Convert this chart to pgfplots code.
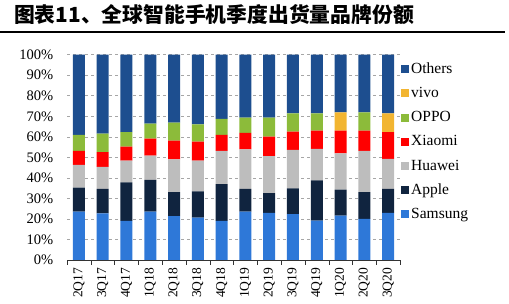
\documentclass[border=0pt]{standalone}
\usepackage{pgfplots}
\pgfplotsset{compat=1.18}
\usepackage{fontspec}
\setmainfont{Liberation Serif}
\newfontfamily\cjk{Noto Sans CJK SC}
\definecolor{cSam}{HTML}{2E78D8}
\definecolor{cApp}{HTML}{10243F}
\definecolor{cHua}{HTML}{BDBDBD}
\definecolor{cXia}{HTML}{FF0000}
\definecolor{cOpp}{HTML}{8CBB3A}
\definecolor{cViv}{HTML}{F2B531}
\definecolor{cOth}{HTML}{1D4E8F}
\begin{document}
\begin{tikzpicture}[x=1pt,y=1pt]
\useasboundingbox (0,0) rectangle (509,304);
\node[anchor=west,inner sep=0pt] at (14,289) {\cjk\bfseries\fontsize{20.8}{24}\selectfont 图表11、全球智能手机季度出货量品牌份额};
\draw[line width=2pt] (0,272) -- (505,272);
\begin{axis}[
  at={(67pt,44pt)}, anchor=south west,
  scale only axis, width=333pt, height=205.3pt,
  ybar stacked, bar width=12pt,
  xmin=-0.5, xmax=13.5, ymin=0, ymax=100,
  axis lines*=left,
  y axis line style={draw=none},
  x axis line style={black!80},
  xtick={0,...,13},
  xticklabels={2Q17,3Q17,4Q17,1Q18,2Q18,3Q18,4Q18,1Q19,2Q19,3Q19,4Q19,1Q20,2Q20,3Q20},
  major x tick style={draw=none},
  minor xtick={-0.5,0.5,...,13.5},
  minor x tick style={black!80},
  minor tick length=5pt,
  tick align=outside,
  x tick label style={rotate=90, anchor=east, font=\fontsize{13.5}{13.5}\selectfont},
  ytick={0,10,...,100},
  yticklabel={\pgfmathprintnumber{\tick}\%},
  y tick label style={font=\fontsize{14.5}{14.5}\selectfont, xshift=-6pt},
  ytick style={draw=none},
  /pgf/number format/assume math mode=true,
  ymajorgrids,
  grid style={dashed, gray!70, line width=0.6pt},
  reverse legend,
  legend style={at={(1.0,0.975)}, anchor=north west, draw=none, fill=none,
    font=\fontsize{15.5}{15.5}\selectfont, row sep=8.3pt, inner sep=1pt},
  legend cell align=left,
  legend image code/.code={\fill[#1] (0pt,-4pt) rectangle (8pt,4pt);},
  every axis plot/.append style={draw=none},
]
\addplot[fill=cSam] coordinates {(0,23.5)(1,22.7)(2,19.0)(3,23.5)(4,21.4)(5,20.6)(6,19.0)(7,23.5)(8,22.9)(9,22.4)(10,19.2)(11,21.6)(12,20.0)(13,22.9)};
\addplot[fill=cApp] coordinates {(0,11.7)(1,12.0)(2,18.8)(3,15.5)(4,11.6)(5,12.8)(6,18.0)(7,11.2)(8,9.7)(9,12.5)(10,19.6)(11,12.7)(12,13.0)(13,11.7)};
\addplot[fill=cHua] coordinates {(0,11.1)(1,10.6)(2,10.6)(3,11.8)(4,16.0)(5,15.0)(6,16.1)(7,19.2)(8,18.0)(9,18.7)(10,15.3)(11,17.6)(12,20.1)(13,14.6)};
\addplot[fill=cXia] coordinates {(0,6.8)(1,7.3)(2,6.8)(3,8.3)(4,9.1)(5,9.2)(6,7.8)(7,8.0)(8,9.5)(9,8.9)(10,8.9)(11,11.1)(12,9.9)(13,13.1)};
\addplot[fill=cOpp] coordinates {(0,7.9)(1,8.9)(2,7.1)(3,7.3)(4,8.8)(5,8.5)(6,7.8)(7,7.4)(8,9.2)(9,8.9)(10,8.4)(11,0)(12,8.9)(13,0)};
\addplot[fill=cViv] coordinates {(0,0)(1,0)(2,0)(3,0)(4,0)(5,0)(6,0)(7,0)(8,0)(9,0)(10,0)(11,8.9)(12,0)(13,9.1)};
\addplot[fill=cOth] coordinates {(0,39.0)(1,38.5)(2,37.7)(3,33.6)(4,33.1)(5,33.9)(6,31.3)(7,30.7)(8,30.7)(9,28.6)(10,28.6)(11,28.1)(12,28.1)(13,28.6)};
\legend{Samsung,Apple,Huawei,Xiaomi,OPPO,vivo,Others}
\end{axis}
\end{tikzpicture}
\end{document}
